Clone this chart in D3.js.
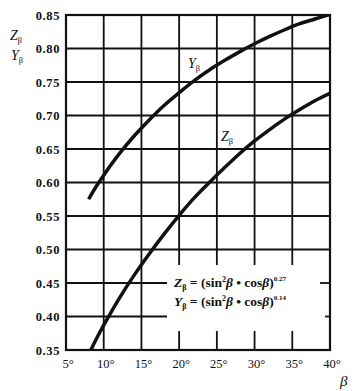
<!DOCTYPE html>
<html><head><meta charset="utf-8">
<script src="https://cdn.jsdelivr.net/npm/d3@7/dist/d3.min.js"></script>
<style>
html,body{margin:0;padding:0;background:#fff;}
svg text{font-family:"Liberation Serif","DejaVu Serif",serif;fill:#111;}
</style></head>
<body><svg id="c" width="363" height="391"></svg>
<script>
// ---- data ----
const yBeta = [8, 9, 10, 12, 14, 16, 18, 20, 22, 24, 26, 28, 30, 32, 34, 36, 38, 40];
const yValues = [0.575, 0.594, 0.611, 0.642, 0.669, 0.693, 0.715, 0.734, 0.752, 0.768, 0.782, 0.795, 0.807, 0.818, 0.828, 0.837, 0.844, 0.851];
const zBeta = [8.3, 9, 10, 12, 14, 16, 18, 20, 22, 24, 26, 28, 30, 32, 34, 36, 38, 40];
const zValues = [0.350, 0.366, 0.387, 0.426, 0.461, 0.493, 0.523, 0.551, 0.577, 0.600, 0.622, 0.643, 0.662, 0.679, 0.695, 0.709, 0.722, 0.733];
const xTicks = [5, 10, 15, 20, 25, 30, 35, 40];
const yTicks = [0.35, 0.40, 0.45, 0.50, 0.55, 0.60, 0.65, 0.70, 0.75, 0.80, 0.85];

const svg = d3.select("#c");
const x = d3.scaleLinear().domain([5, 40]).range([66, 330]);
const y = d3.scaleLinear().domain([0.35, 0.85]).range([350, 15]);
const ink = "#111";

svg.append("defs").append("clipPath").attr("id","clip")
  .append("rect").attr("x", x(5)).attr("y", y(0.85)).attr("width", x(40)-x(5)).attr("height", y(0.35)-y(0.85));

// grid
const g = svg.append("g");
g.selectAll(".vg").data(xTicks.slice(1, -1)).join("line")
  .attr("x1", d => x(d)).attr("x2", d => x(d)).attr("y1", y(0.85)).attr("y2", y(0.35))
  .attr("stroke", ink).attr("stroke-width", 1.8);
g.selectAll(".hg").data(yTicks.slice(1, -1)).join("line")
  .attr("x1", x(5)).attr("x2", x(40)).attr("y1", d => y(d)).attr("y2", d => y(d))
  .attr("stroke", ink).attr("stroke-width", 1.8);

// blank legend area
const lx0 = 167, ly0 = 265, ly1 = 331;
g.append("rect").attr("x", lx0).attr("y", ly0).attr("width", x(40)-lx0-1).attr("height", ly1-ly0).attr("fill", "#fff");
// short ticks on the right edge inside legend zone
g.append("line").attr("x1", x(40)-10).attr("x2", x(40)).attr("y1", y(0.45)).attr("y2", y(0.45)).attr("stroke", ink).attr("stroke-width", 1.8);
g.append("line").attr("x1", x(40)-5).attr("x2", x(40)).attr("y1", y(0.40)).attr("y2", y(0.40)).attr("stroke", ink).attr("stroke-width", 1.8);

// frame
svg.append("rect").attr("x", x(5)).attr("y", y(0.85)).attr("width", x(40)-x(5)).attr("height", y(0.35)-y(0.85))
  .attr("fill", "none").attr("stroke", ink).attr("stroke-width", 2.2);

// curves
const line = d3.line().curve(d3.curveCatmullRom).x(d => x(d[0])).y(d => y(d[1]));
const cg = svg.append("g").attr("clip-path", "url(#clip)");
cg.append("path").datum(yBeta.map((b, i) => [b, yValues[i]])).attr("d", line)
  .attr("fill", "none").attr("stroke", ink).attr("stroke-width", 3.5);
cg.append("path").datum(zBeta.map((b, i) => [b, zValues[i]])).attr("d", line)
  .attr("fill", "none").attr("stroke", ink).attr("stroke-width", 3.5);

// y tick labels
svg.selectAll(".yl").data(yTicks).join("text")
  .attr("x", 60).attr("y", d => y(d) + 4.5).attr("text-anchor", "end")
  .attr("font-size", 12.5).attr("font-weight", "bold").attr("letter-spacing", 0.6).text(d => d.toFixed(2));
// x tick labels
svg.selectAll(".xl").data(xTicks).join("text")
  .attr("x", d => x(d) + 2).attr("y", 368).attr("text-anchor", "middle")
  .attr("font-size", 12.5).text(d => d + "°");

// axis titles
function sub(t, base, s, size, px, py) {
  const tx = svg.append("text").attr("x", px).attr("y", py).attr("font-size", size).attr("font-style", "italic");
  tx.append("tspan").text(base);
  tx.append("tspan").attr("dy", 3).attr("font-size", size * 0.6).attr("font-style", "normal").text(s);
  return tx;
}
sub(svg, "Z", "β", 14, 10, 40);
sub(svg, "Y", "β", 14, 11, 60);
svg.append("text").attr("x", 340).attr("y", 386).attr("font-size", 15).attr("font-style", "italic").text("β");

// curve labels
sub(svg, "Y", "β", 14, 188, 68);
sub(svg, "Z", "β", 14, 221, 141);

// legend formulas
function formula(name, exp, py) {
  const t = svg.append("text").attr("x", 174).attr("y", py).attr("font-size", 13.5).attr("font-weight", "bold");
  t.append("tspan").attr("font-style", "italic").text(name);
  t.append("tspan").attr("dy", 3).attr("font-size", 8).text("β");
  t.append("tspan").attr("dy", -3).text(" = (sin");
  t.append("tspan").attr("dy", -5).attr("font-size", 8).text("2");
  t.append("tspan").attr("dy", 5).attr("font-style", "italic").text("β");
  t.append("tspan").text(" • cos");
  t.append("tspan").attr("font-style", "italic").text("β");
  t.append("tspan").text(")");
  t.append("tspan").attr("dy", -6).attr("font-size", 7).text(exp);
}
formula("Z", "0.27", 287);
formula("Y", "0.14", 306);
</script></body></html>
